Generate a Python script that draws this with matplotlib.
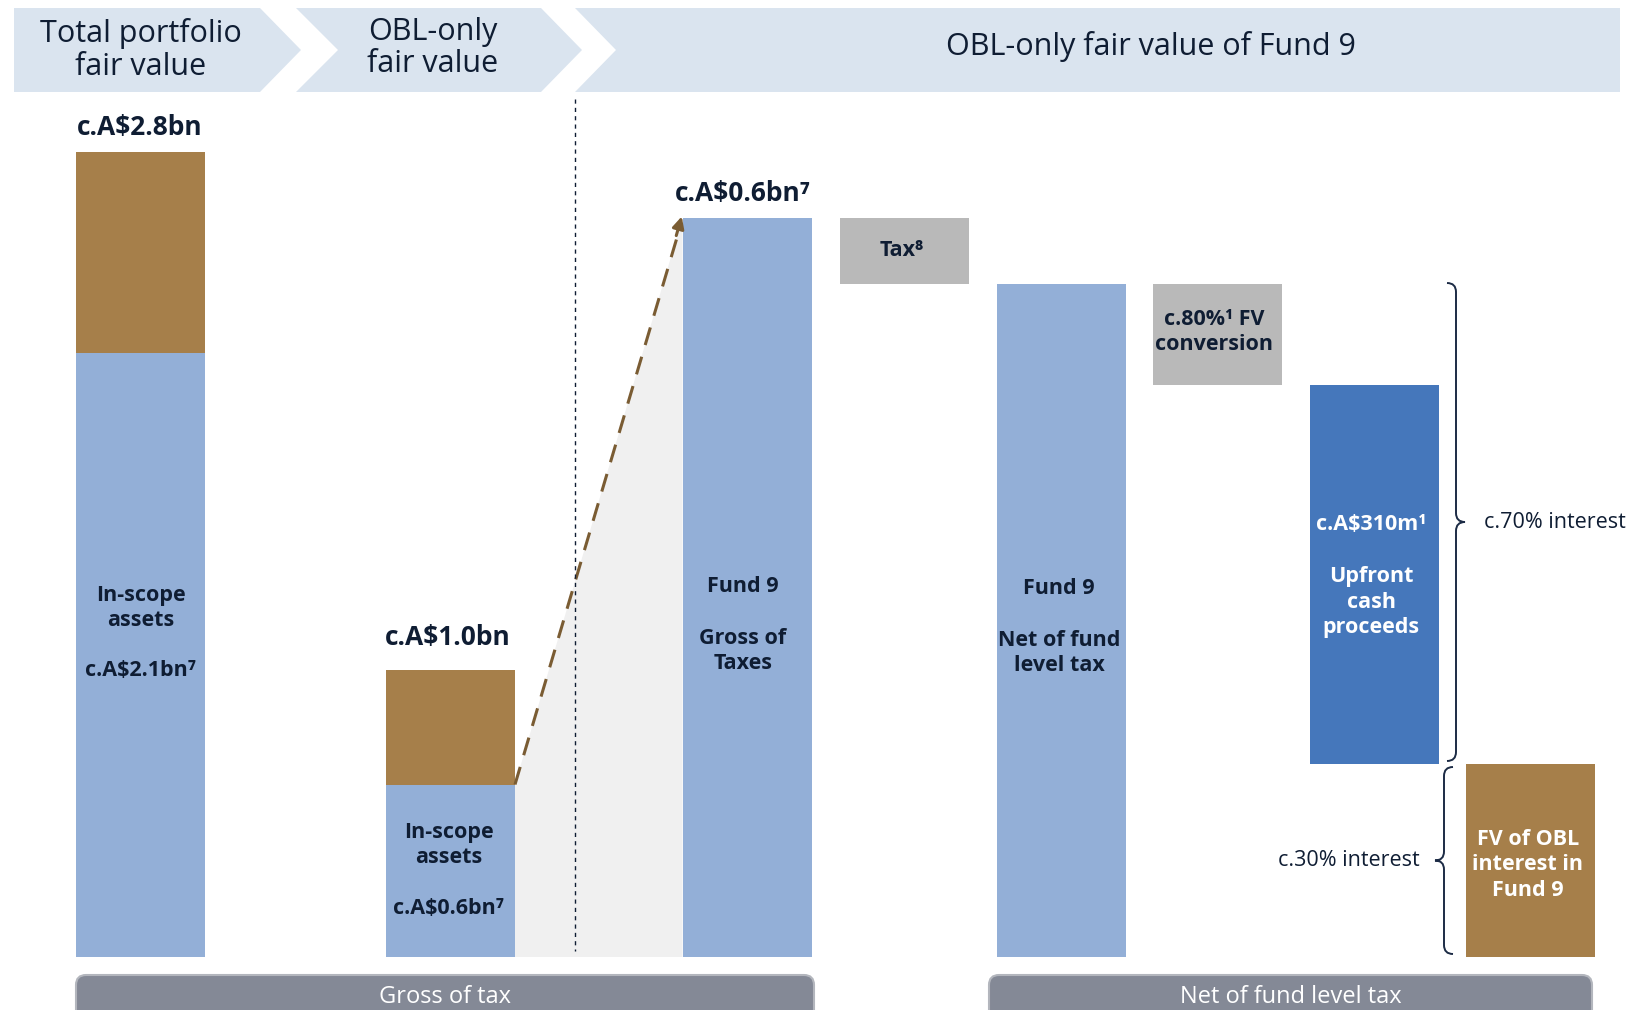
#! /usr/bin/env python3

import matplotlib.pyplot as plt
from matplotlib.patches import Polygon, FancyBboxPatch, PathPatch
from matplotlib.path import Path

plt.rcParams['font.family'] = ['Open Sans', 'DejaVu Sans']
plt.rcParams['text.parse_math'] = False

# bar values (A$bn-equivalent heights; the Fund 9 part is schematic)
total_parts = [2.1, 0.7]        # in-scope, other
obl_parts = [0.6, 0.4]          # in-scope, other
fund9_gross = 2.57
fund9_tax = 0.23
fund9_net = 2.34
fv_conversion = 0.35
upfront_cash = 1.32
fv_obl = 0.67

headers = ["Total portfolio\nfair value", "OBL-only\nfair value", "OBL-only fair value of Fund 9"]
footers = ["Gross of tax", "Net of fund level tax"]

LIGHT = "#93AFD7"
BROWN = "#A67F4A"
GREY = "#B9B9B9"
DARK = "#4577BB"
NAVY = "#0F1D33"
HEADER = "#DAE4EF"
FOOT = "#848996"
SHADE = "#F0F0F0"

W, H = 1630, 1010
fig = plt.figure(figsize=(W / 100, H / 100), dpi=100)

# value axes: baseline at pixel 957, 287.5 px per unit
base, scale = 957, 287.5
ax = fig.add_axes([0, 0, 1, 1], zorder=1)
ax.set_xlim(0, W)
ax.set_ylim(-(H - base) / scale, base / scale)
ax.axis("off")

# layout axes in pixels (y down), drawn on top
ov = fig.add_axes([0, 0, 1, 1], zorder=2)
ov.set_xlim(0, W)
ov.set_ylim(H, 0)
ov.axis("off")
ov.patch.set_alpha(0)

# header chevrons
chev = [
    [(14, 8), (260, 8), (301, 50), (260, 92), (14, 92)],
    [(296, 8), (541, 8), (582, 50), (541, 92), (296, 92), (338, 50)],
    [(575, 8), (1620, 8), (1620, 92), (575, 92), (616, 50)],
]
for pts in chev:
    ov.add_patch(Polygon(pts, closed=True, facecolor=HEADER, edgecolor="none", zorder=0))
ov.text(141, 50, headers[0], ha="center", va="center", fontsize=22, color=NAVY, linespacing=1.12)
ov.text(433, 48, headers[1], ha="center", va="center", fontsize=22, color=NAVY, linespacing=1.12)
ov.text(1151, 46, headers[2], ha="center", va="center", fontsize=22, color=NAVY)

w = 129
x1, x2, x3, xt, x4, xc, xu, xf = 140.5, 450.5, 747, 904, 1061, 1217, 1374, 1530

# shaded bridge + arrow
ax.add_patch(Polygon([(x2 + w / 2, obl_parts[0]), (x3 - w / 2, fund9_gross),
                      (x3 - w / 2, 0), (x2 + w / 2, 0)],
                     closed=True, facecolor=SHADE, edgecolor="none", zorder=1))
ax.plot([x2 + w / 2, x3 - w / 2 - 4], [obl_parts[0], fund9_gross - 0.05],
        color="#7A5C33", lw=2.2, dashes=(6, 4), zorder=3)
ax.annotate("", xy=(x3 - w / 2, fund9_gross + 0.015),
            xytext=(x3 - w / 2 - 7, fund9_gross - 0.07),
            arrowprops=dict(arrowstyle="-|>,head_length=0.7,head_width=0.35",
                            color="#7A5C33", lw=2.2), zorder=3)
ov.plot([575, 575], [99, 951], color=NAVY, lw=1, dashes=(3, 3), zorder=2)

# bars
ax.bar(x1, total_parts[0], w, color=LIGHT, zorder=2)
ax.bar(x1, total_parts[1], w, bottom=total_parts[0], color=BROWN, zorder=2)
ax.bar(x2, obl_parts[0], w, color=LIGHT, zorder=2)
ax.bar(x2, obl_parts[1], w, bottom=obl_parts[0], color=BROWN, zorder=2)
ax.bar(x3, fund9_gross, w, color=LIGHT, zorder=2)
ax.bar(xt, fund9_tax, w, bottom=fund9_net, color=GREY, zorder=2)
ax.bar(x4, fund9_net, w, color=LIGHT, zorder=2)
ax.bar(xc, fv_conversion, w, bottom=upfront_cash + fv_obl, color=GREY, zorder=2)
ax.bar(xu, upfront_cash, w, bottom=fv_obl, color=DARK, zorder=2)
ax.bar(xf, fv_obl, w, color=BROWN, zorder=2)

# labels
bold = dict(ha="center", va="center", fontsize=15.5, fontweight="bold", color=NAVY,
            linespacing=1.3, zorder=5)
big = dict(ha="center", va="center", fontsize=19, fontweight="bold", color=NAVY)
ov.text(x1 - 1, 127, "c.A$2.8bn", **big)
ov.text(x2 - 3, 637, "c.A$1.0bn", **big)
ov.text(x3 - 4, 194, "c.A$0.6bn⁷", **big)
ov.text(x1, 608, "In-scope\nassets", **bold)
ov.text(x1, 671, "c.A$2.1bn⁷", **bold)
ov.text(x2 - 2, 845, "In-scope\nassets", **bold)
ov.text(x2 - 2, 908, "c.A$0.6bn⁷", **bold)
ov.text(x3 - 4, 587, "Fund 9", **bold)
ov.text(x3 - 4, 651, "Gross of\nTaxes", **bold)
ov.text(xt - 2, 250, "Tax⁸", **bold)
ov.text(x4 - 2, 589, "Fund 9", **bold)
ov.text(x4 - 2, 653, "Net of fund\nlevel tax", **bold)
ov.text(xc - 3, 332, "c.80%¹ FV\nconversion", **bold)
white = dict(bold, color="white")
ov.text(xu - 3, 525, "c.A$310m¹", **white)
ov.text(xu - 3, 602, "Upfront\ncash\nproceeds", **white)
ov.text(xf - 2, 865, "FV of OBL\ninterest in\nFund 9", **white)

# braces
def brace(xs, y0, y1, side):
    # vertical brace in pixel coords, side=+1 points right, -1 points left
    r = 9
    ym = (y0 + y1) / 2
    verts = [(xs - side * r, y0), (xs, y0), (xs, y0 + r),
             (xs, ym - r), (xs, ym), (xs + side * r, ym),
             (xs, ym), (xs, ym + r),
             (xs, y1 - r), (xs, y1), (xs - side * r, y1)]
    codes = [Path.MOVETO, Path.CURVE3, Path.CURVE3,
             Path.LINETO, Path.CURVE3, Path.CURVE3,
             Path.CURVE3, Path.CURVE3,
             Path.LINETO, Path.CURVE3, Path.CURVE3]
    ov.add_patch(PathPatch(Path(verts, codes), facecolor="none", edgecolor="#1C2B45", lw=1.4))

brace(1456, 283, 761, 1)
brace(1444, 767, 954, -1)
ov.text(1484, 522, "c.70% interest", ha="left", va="center", fontsize=15.5, color=NAVY)
ov.text(1420, 861, "c.30% interest", ha="right", va="center", fontsize=15.5, color=NAVY)

# footer boxes
for (xa, xb), label in zip([(76, 814), (989, 1592)], footers):
    ov.add_patch(FancyBboxPatch((xa, 975), xb - xa, 80,
                                boxstyle="round,pad=0,rounding_size=10",
                                facecolor=FOOT, edgecolor="#B3B6BD", lw=1.5))
    ov.text((xa + xb) / 2, 997, label, ha="center", va="center", fontsize=17, color="white")

fig.savefig("out.png", dpi=100)
